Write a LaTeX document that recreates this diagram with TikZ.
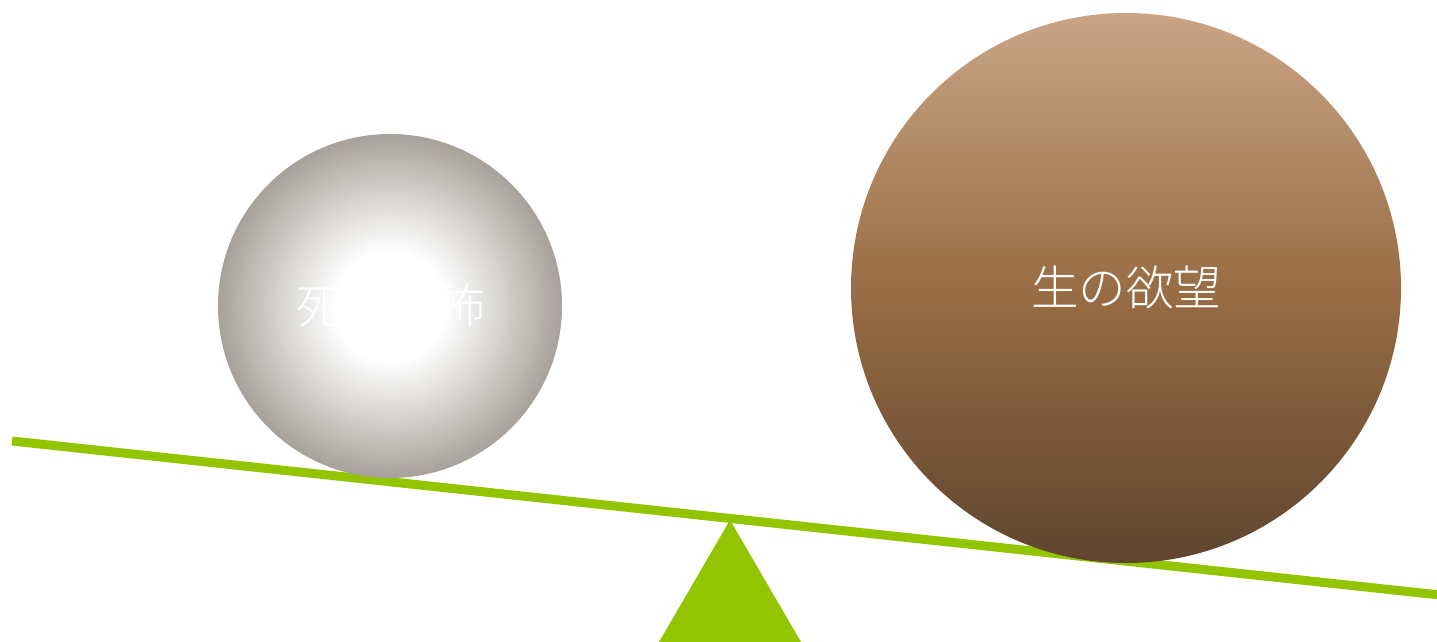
\documentclass[tikz,border=0pt]{standalone}
\usepackage{fontspec}
\IfFontExistsTF{Noto Sans CJK JP Light}{\newfontfamily\cjk{Noto Sans CJK JP Light}}{\newfontfamily\cjk{Noto Sans CJK JP}}
\definecolor{beamgreen}{HTML}{92C400}
\definecolor{ballgray}{HTML}{A6A199}
\definecolor{browntop}{HTML}{C9A585}
\definecolor{brownmid}{HTML}{996D45}
\definecolor{brownbot}{HTML}{5F452F}
\pgfdeclareradialshading{grayball}{\pgfpoint{0bp}{0bp}}{color(0bp)=(white); color(8bp)=(white); color(16bp)=(ballgray!45!white); color(25bp)=(ballgray); color(50bp)=(ballgray)}
\pgfdeclareverticalshading{brownball}{100bp}{color(0bp)=(brownbot); color(25bp)=(brownbot); color(50bp)=(brownmid); color(75bp)=(browntop); color(100bp)=(browntop)}
\tikzset{
  balltext/.style={text=white, font=\cjk\fontsize{47.5}{52}\selectfont, inner sep=0pt},
}
\begin{document}
\begin{tikzpicture}[x=1pt,y=-1pt]
\useasboundingbox (0,0) rectangle (1437,642);
% ground triangle
\fill[beamgreen] (730,520) -- (801,642) -- (659,642) -- cycle;
% beam
\draw[beamgreen, line width=9pt] (12,441) -- (1440,595);
% left ball
\shade[shading=grayball] (390,306) circle[radius=172];
\node[balltext] (fear) at (391,305) {死の恐怖};
% right ball
\shade[shading=brownball] (1126,288) circle[radius=275];
\node[balltext] (desire) at (1126,287) {生の欲望};
\end{tikzpicture}
\end{document}
